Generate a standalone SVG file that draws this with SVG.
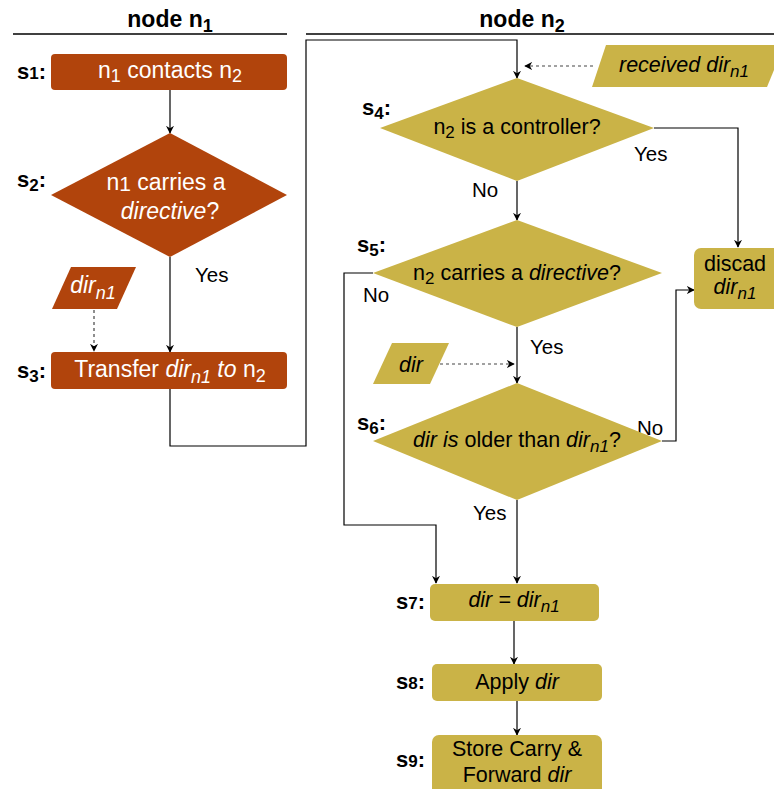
<svg xmlns="http://www.w3.org/2000/svg" width="774" height="789" viewBox="0 0 774 789">
<defs>
<marker id="ah" viewBox="0 0 10 10" refX="9" refY="5" markerWidth="8" markerHeight="8" orient="auto" markerUnits="userSpaceOnUse"><path d="M0,0 L10,5 L0,10 L3,5 Z" fill="#000"/></marker>
<style>
text{font-family:"Liberation Sans",Arial,sans-serif;}
.r{fill:#B1440C;}
.g{fill:#CAB347;}
.w{fill:#fff;font-size:23px;text-anchor:middle;}
.b{fill:#000;font-size:21.5px;text-anchor:middle;}
.lab{fill:#000;font-size:20.5px;}
.st{fill:#000;font-size:22px;font-weight:bold;}
.hd{fill:#000;font-size:23px;font-weight:bold;text-anchor:middle;}
.c{fill:none;stroke:#000;stroke-width:1.2;}
.d{fill:none;stroke:#444;stroke-width:1.2;stroke-dasharray:3 3;}
.i{font-style:italic;}
</style>
</defs>
<g id="headers">
<text class="hd" x="170" y="27">node n<tspan font-size="18" dy="5">1</tspan></text>
<line x1="13" y1="34" x2="287" y2="34" stroke="#000" stroke-width="1.5"/>
<text class="hd" x="522" y="27">node n<tspan font-size="18" dy="5">2</tspan></text>
<line x1="306" y1="34" x2="774" y2="34" stroke="#000" stroke-width="1.5"/>
</g>
<g id="connectors">
<line class="c" x1="170" y1="90" x2="170" y2="133" marker-end="url(#ah)"/>
<line class="c" x1="170" y1="257" x2="170" y2="352" marker-end="url(#ah)"/>
<line class="d" x1="94" y1="310" x2="94" y2="351" marker-end="url(#ah)"/>
<polyline class="c" points="170,389 170,446 306,446 306,40 517,40 517,78" marker-end="url(#ah)"/>
<line class="d" x1="593" y1="66" x2="525" y2="66" marker-end="url(#ah)"/>
<polyline class="c" points="654,128 738,128 738,247" marker-end="url(#ah)"/>
<line class="c" x1="517" y1="181" x2="517" y2="220" marker-end="url(#ah)"/>
<polyline class="c" points="373,273 344,273 344,525 436,525 436,583" marker-end="url(#ah)"/>
<line class="c" x1="517" y1="327" x2="517" y2="383" marker-end="url(#ah)"/>
<line class="d" x1="440" y1="364" x2="514" y2="364" marker-end="url(#ah)"/>
<polyline class="c" points="662,441 676,441 676,290 694,290" marker-end="url(#ah)"/>
<line class="c" x1="517" y1="500" x2="517" y2="583" marker-end="url(#ah)"/>
<line class="c" x1="514" y1="621" x2="514" y2="664" marker-end="url(#ah)"/>
<line class="c" x1="517" y1="701" x2="517" y2="735" marker-end="url(#ah)"/>
<text class="lab" x="195" y="282">Yes</text>
<text class="lab" x="634" y="161">Yes</text>
<text class="lab" x="472" y="197">No</text>
<text class="lab" x="363" y="302">No</text>
<text class="lab" x="530" y="354">Yes</text>
<text class="lab" x="637" y="435">No</text>
<text class="lab" x="473" y="520">Yes</text>
</g>
<g id="s1">
<text class="st" x="17" y="79">s<tspan font-size="17">1</tspan>:</text>
<rect class="r" x="51" y="54" width="236" height="36" rx="4"/>
<text class="w" x="170" y="78">n<tspan font-size="18" dy="4">1</tspan><tspan dy="-4"> contacts n</tspan><tspan font-size="18" dy="4">2</tspan></text>
</g>
<g id="s2">
<text class="st" x="17" y="187">s<tspan font-size="17" dy="4">2</tspan><tspan dy="-4">:</tspan></text>
<polygon class="r" points="170,133 287,195 170,257 51,195"/>
<text class="w" x="166" y="190">n<tspan font-size="21" dy="1">1</tspan><tspan dy="-1"> carries a</tspan></text>
<text class="w" x="170" y="219"><tspan class="i">directive</tspan>?</text>
</g>
<g id="dirn1">
<polygon class="r" points="71,267 136,267 117,309 52,309"/>
<text class="w" x="93" y="293"><tspan class="i">dir</tspan><tspan class="i" font-size="18" dy="6">n1</tspan></text>
</g>
<g id="s3">
<text class="st" x="17" y="378">s<tspan font-size="17" dy="4">3</tspan><tspan dy="-4">:</tspan></text>
<rect class="r" x="51" y="352" width="236" height="37" rx="4"/>
<text class="w" x="170" y="377">Transfer <tspan class="i">dir</tspan><tspan class="i" font-size="18" dy="6">n1</tspan><tspan class="i" dy="-6"> to </tspan>n<tspan font-size="18" dy="5">2</tspan></text>
</g>
<g id="received">
<polygon class="g" points="606,45 774,45 774,70 767,87 592,87"/>
<text class="b" x="684" y="72"><tspan class="i">received dir</tspan><tspan class="i" font-size="17" dy="5">n1</tspan></text>
</g>
<g id="s4">
<text class="st" x="362" y="115">s<tspan font-size="17" dy="4">4</tspan><tspan dy="-4">:</tspan></text>
<polygon class="g" points="517,78 654,128 517,181 380,128"/>
<text class="b" x="517" y="134">n<tspan font-size="17" dy="4">2</tspan><tspan dy="-4"> is a controller?</tspan></text>
</g>
<g id="s5">
<text class="st" x="357" y="252">s<tspan font-size="17" dy="4">5</tspan><tspan dy="-4">:</tspan></text>
<polygon class="g" points="517,220 662,273 517,327 373,273"/>
<text class="b" x="517" y="280">n<tspan font-size="17" dy="4">2</tspan><tspan dy="-4"> carries a </tspan><tspan class="i">directive</tspan>?</text>
</g>
<g id="discard">
<rect class="g" x="694" y="248" width="86" height="61" rx="7"/>
<text class="b" x="735" y="271">discad</text>
<text class="b" x="735" y="294"><tspan class="i">dir</tspan><tspan class="i" font-size="17" dy="5">n1</tspan></text>
</g>
<g id="dir">
<polygon class="g" points="392,343 449,343 430,384 373,384"/>
<text class="b i" x="411" y="372">dir</text>
</g>
<g id="s6">
<text class="st" x="357" y="430">s<tspan font-size="17" dy="4">6</tspan><tspan dy="-4">:</tspan></text>
<polygon class="g" points="517,383 662,441 517,500 373,441"/>
<text class="b" x="517" y="447"><tspan class="i">dir is</tspan> older than <tspan class="i">dir</tspan><tspan class="i" font-size="17" dy="5">n1</tspan><tspan dy="-5">?</tspan></text>
</g>
<g id="s7">
<text class="st" x="396" y="609">s<tspan font-size="17">7</tspan>:</text>
<rect class="g" x="430" y="584" width="169" height="37" rx="5"/>
<text class="b" x="514" y="607"><tspan class="i">dir = dir</tspan><tspan class="i" font-size="17" dy="5">n1</tspan></text>
</g>
<g id="s8">
<text class="st" x="396" y="689">s<tspan font-size="17">8</tspan>:</text>
<rect class="g" x="432" y="664" width="170" height="37" rx="5"/>
<text class="b" x="517" y="689">Apply <tspan class="i">dir</tspan></text>
</g>
<g id="s9">
<text class="st" x="396" y="767">s<tspan font-size="17">9</tspan>:</text>
<rect class="g" x="432" y="735" width="170" height="60" rx="7"/>
<text class="b" x="517" y="756">Store Carry &amp;</text>
<text class="b" x="517" y="782">Forward <tspan class="i">dir</tspan></text>
</g>
</svg>
